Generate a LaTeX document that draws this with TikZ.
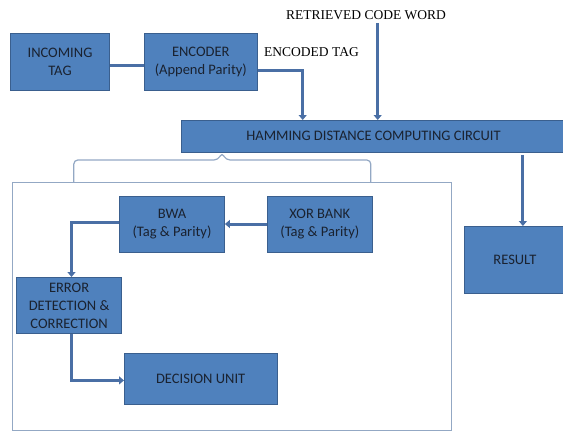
\documentclass[tikz,border=0pt]{standalone}
\usepackage{fontspec}
\setmainfont{Carlito}
\newfontfamily\timesfont{Liberation Serif}
\usetikzlibrary{arrows.meta, positioning}

\definecolor{boxfill}{HTML}{4F81BD}
\definecolor{boxline}{HTML}{3A5F8E}
\definecolor{wirecol}{HTML}{4A6FA5}
\definecolor{framecol}{HTML}{93A8C4}
\definecolor{boxtext}{HTML}{1A2230}

\begin{document}
\begin{tikzpicture}[x=1pt, y=-1pt,
		block/.style={rectangle, draw=boxline, fill=boxfill, line width=0.8pt, inner sep=0pt, align=center, text=boxtext, font=\fontsize{14.5}{18}\selectfont},
		wire/.style={draw=wirecol, line width=3pt},
		arrow/.style={wire, -{Triangle[length=5pt, width=8pt]}},
		tagtext/.style={font=\timesfont\fontsize{13.5}{16}\selectfont, inner sep=0pt},
		outline/.style={rectangle, draw=framecol, line width=1pt, inner sep=0pt},
		bracket/.style={draw=framecol, line width=1.2pt, rounded corners=4pt}
		]
		\useasboundingbox (0,0) rectangle (563,432);
		
		% Outer frame of the matching unit
		\node[outline, minimum width=439pt, minimum height=248pt, anchor=north west] (unit) at (11.8,182) {};
		
		% Top chain
		\node[block, minimum width=99pt, minimum height=57pt] (tag) at (60,61.5) {INCOMING\\TAG};
		\node[block, minimum width=113pt, minimum height=57pt, right=34pt of tag] (enc) {ENCODER\\(Append Parity)};
		\node[block, minimum width=385pt, minimum height=31.5pt, anchor=north west] (hdc) at (180.6,120) {HAMMING DISTANCE COMPUTING CIRCUIT};
		\node[block, minimum width=101pt, minimum height=67pt, anchor=north west] (res) at (464,226) {RESULT};
		
		% Inside the frame
		\node[block, minimum width=105pt, minimum height=56pt] (bwa) at (172,224) {BWA\\(Tag \& Parity)};
		\node[block, minimum width=105pt, minimum height=56pt, right=42pt of bwa] (xor) {XOR BANK\\(Tag \& Parity)};
		\node[block, minimum width=105pt, minimum height=56pt, anchor=north west] (edc) at (16.2,277) {ERROR\\DETECTION \&\\CORRECTION};
		\node[block, minimum width=152.5pt, minimum height=51pt, anchor=north west] (dec) at (124,353) {DECISION UNIT};
		
		% Labels
		\node[tagtext] (enctag) at (311.5,52) {ENCODED TAG};
		\node[tagtext] (rcw) at (366,15) {RETRIEVED CODE WORD};
		
		% Bracket from the computing circuit to the frame
		\draw[bracket] ([xshift=62pt]unit.north west) |- (218,160) -- (222,152.5) -- (226,160) -| ([xshift=359pt]unit.north west);
		
		% Connectors
		\draw[wire] ([yshift=-3.5pt]tag.east) -- ([yshift=-3.5pt]enc.west);
		\draw[arrow] ([yshift=-8.5pt]enc.east) -| ([xshift=-70.8pt]hdc.north);
		\draw[arrow] ([xshift=11.7pt, yshift=-3pt]rcw.south) -- ([xshift=11.7pt]rcw.south |- hdc.north);
		\draw[arrow] ([xshift=8pt]res.north |- hdc.south) ++(0,2.5) -- ([xshift=8pt]res.north);
		\draw[arrow] (xor) -- (bwa);
		\draw[arrow] ([yshift=1.3pt]bwa.west) -| ([xshift=2.4pt]edc.north);
		\draw[arrow] ([xshift=2.4pt]edc.south) |- ([yshift=-1.5pt]dec.west);
		
	\end{tikzpicture}
\end{document}
